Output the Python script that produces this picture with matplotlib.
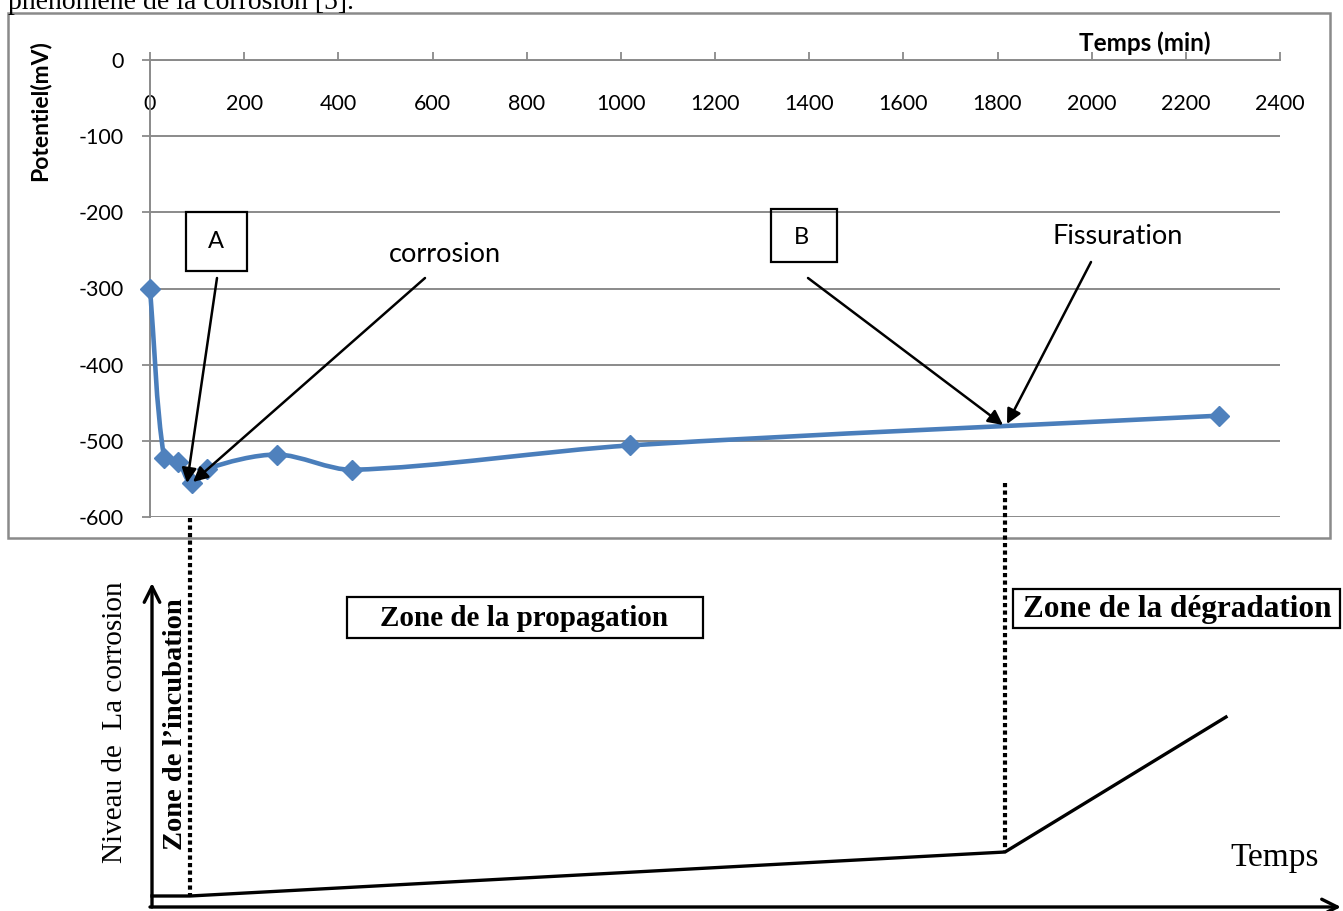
import numpy as np
import matplotlib
matplotlib.use('Agg')
import matplotlib.pyplot as plt
from matplotlib.path import Path
from matplotlib.patches import PathPatch, Rectangle

# ---------------- data ----------------
time_min = [0, 30, 60, 90, 120, 270, 430, 1020, 2270]
potential_mv = [-300, -522, -528, -556, -537, -518, -538, -506, -467]
x_ticks = list(range(0, 2401, 200))
y_ticks = list(range(-600, 1, 100))

W, H = 1343, 911
fig = plt.figure(figsize=(W / 100, H / 100), dpi=100)

SANS = ['Lato', 'DejaVu Sans']
SERIF = ['Liberation Serif', 'DejaVu Serif']
GRAY = '#8a8a8a'
BLUE = '#4a7ebb'

# main chart axes (plot area in pixels: x 150..1280, y 60..517)
PX_L, PX_R, PX_T, PX_B = 150, 1280, 60, 517
ax = fig.add_axes([PX_L / W, 1 - PX_B / H, (PX_R - PX_L) / W, (PX_B - PX_T) / H])
ax.set_xlim(0, 2400)
ax.set_ylim(-600, 0)
ax.set_xticks(x_ticks)
ax.set_yticks(y_ticks)
ax.set_xticklabels([str(v) for v in x_ticks], family=SANS)
ax.set_yticklabels([str(v) for v in y_ticks], family=SANS)
for s in ['right', 'bottom']:
    ax.spines[s].set_visible(False)
for s in ['left', 'top']:
    ax.spines[s].set_color(GRAY)
    ax.spines[s].set_linewidth(1.4)
ax.xaxis.set_ticks_position('top')
ax.tick_params(axis='x', direction='out', length=6, width=1.3, color=GRAY,
               labeltop=True, labelbottom=False, pad=-45, labelsize=15.5)
ax.tick_params(axis='y', direction='out', length=6, width=1.3, color=GRAY,
               pad=13, labelsize=15.5)
ax.grid(axis='y', color=GRAY, lw=1.4)
ax.set_axisbelow(True)

# smoothed line through the points (Bezier, tangents computed in screen space)
sx = (PX_R - PX_L) / 2400.0
sy = (PX_B - PX_T) / 600.0
pts = np.column_stack([np.asarray(time_min, float) * sx,
                       np.asarray(potential_mv, float) * sy])
n = len(pts)
TENS = 0.3
tang = []
for i in range(n):
    a = pts[max(i - 1, 0)]
    b = pts[min(i + 1, n - 1)]
    d = b - a
    tang.append(d / (np.hypot(*d) + 1e-9))
verts = [tuple(pts[0])]
codes = [Path.MOVETO]
for i in range(n - 1):
    p1, p2 = pts[i], pts[i + 1]
    L = np.hypot(*(p2 - p1))
    c1 = p1 + tang[i] * L * TENS
    c2 = p2 - tang[i + 1] * L * TENS
    verts += [tuple(c1), tuple(c2), tuple(p2)]
    codes += [Path.CURVE4] * 3
verts = [(vx / sx, vy / sy) for vx, vy in verts]
ax.add_patch(PathPatch(Path(verts, codes), fill=False, edgecolor=BLUE,
                       lw=3.3, capstyle='round', joinstyle='round', zorder=3,
                       clip_on=False))
ax.plot(time_min, potential_mv, linestyle='none', marker='D', ms=10,
        color='#4f81bd', zorder=4, clip_on=False)

# ---------------- overlay in pixel coordinates ----------------
ov = fig.add_axes([0, 0, 1, 1])
ov.set_xlim(0, W)
ov.set_ylim(H, 0)
ov.axis('off')

# chart frame
ov.add_patch(Rectangle((8, 13), 1322, 525, fill=False, ec=GRAY, lw=1.8))
# cut-off document text at the top (as in the source page)
ov.text(8, 9, "phénomène de la corrosion [5].", family=SERIF, fontsize=20,
        ha='left', va='baseline')

# axis titles
ov.text(40, 111, "Potentiel(mV)", rotation=90, weight='bold', family=SANS,
        fontsize=16.5, ha='center', va='center')
ov.text(1145, 43, "Temps (min)", weight='bold', family=SANS, fontsize=17.5,
        ha='center', va='center')

# boxes A, B and labels
ov.add_patch(Rectangle((186, 212), 61, 59, fill=False, ec='black', lw=1.6))
ov.text(216, 241, "A", family=SANS, fontsize=17, ha='center', va='center')
ov.add_patch(Rectangle((771, 209), 66, 53, fill=False, ec='black', lw=1.6))
ov.text(801, 238, "B", family=SANS, fontsize=17, ha='center', va='center')
ov.text(445, 254, "corrosion", family=SANS, fontsize=19.5, ha='center', va='center')
ov.text(1118, 236, "Fissuration", family=SANS, fontsize=19.5, ha='center', va='center')

arrows = [((217, 278), (187, 483)),
          ((425, 278), (193, 482)),
          ((808, 278), (1003, 425)),
          ((1091, 262), (1007, 424))]
for tail, tip in arrows:
    ov.annotate('', xy=tip, xytext=tail,
                arrowprops=dict(arrowstyle='-|>', color='black', lw=1.8,
                                mutation_scale=22, shrinkA=0, shrinkB=0))

# ---------------- schematic below ----------------
ov.annotate('', xy=(152, 583), xytext=(152, 907),
            arrowprops=dict(arrowstyle='->', color='black', lw=2.4,
                            mutation_scale=28, shrinkA=0, shrinkB=0))
ov.annotate('', xy=(1341, 907), xytext=(150, 907),
            arrowprops=dict(arrowstyle='->', color='black', lw=2.4,
                            mutation_scale=28, shrinkA=0, shrinkB=0))
ov.plot([152, 190, 1005, 1226], [896, 896, 852, 717], color='black', lw=2.4,
        solid_joinstyle='miter')

ov.plot([190, 190], [518, 896], color='black', lw=3, linestyle=(0, (1, 0.8)))
ov.plot([1005, 1005], [483, 852], color='black', lw=3, linestyle=(0, (1, 0.8)))

ov.add_patch(Rectangle((347, 597), 356, 41, fill=False, ec='black', lw=1.6))
ov.text(524, 618, "Zone de la propagation", family=SERIF, weight='bold',
        fontsize=21, ha='center', va='center')
ov.add_patch(Rectangle((1013, 589), 327, 39, fill=False, ec='black', lw=1.6))
ov.text(1177, 610, "Zone de la dégradation", family=SERIF, weight='bold',
        fontsize=22.5, ha='center', va='center')

ov.text(115, 722, "Niveau de  La corrosion", rotation=90, family=SERIF,
        fontsize=21, ha='center', va='center')
ov.text(175, 724, "Zone de l\u2019incubation", rotation=90, family=SERIF,
        weight='bold', fontsize=20.5, ha='center', va='center')
ov.text(1275, 858, "Temps", family=SERIF, fontsize=24, ha='center', va='center')

fig.savefig('out.png', dpi=100)
